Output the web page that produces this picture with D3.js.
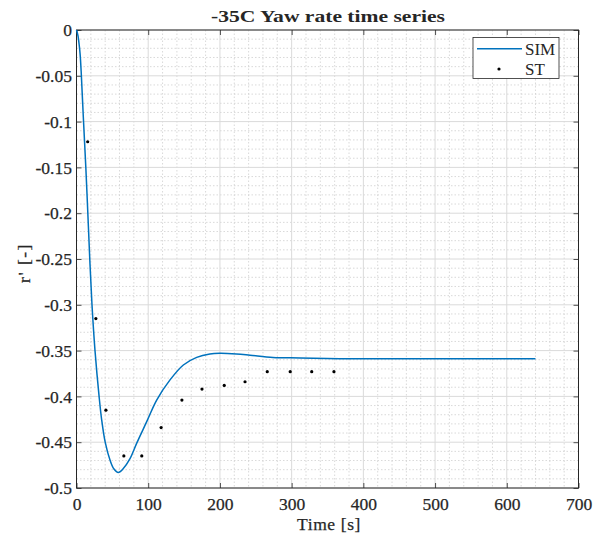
<!DOCTYPE html>
<html>
<head>
<meta charset="utf-8">
<script src="https://cdn.jsdelivr.net/npm/d3@7"></script>
<style>
  html, body { margin: 0; padding: 0; background: #fff; }
  svg { display: block; }
  text { font-family: "Liberation Serif", "Times New Roman", serif; fill: #262626; }
</style>
</head>
<body>
<svg id="chart" width="603" height="536"></svg>
<script>
// ---- data ----
const simTime  = [0, 2, 4, 5, 6.5, 9.5, 13, 15.8, 18.5, 21.6, 25.8, 31.5, 35, 40, 46.7, 52, 58.3, 65, 74.6, 84, 97.9, 111.8, 130.4, 149, 167.6, 186, 200, 223, 242, 274, 312, 367, 451, 550, 640];
const simValue = [0, -0.006, -0.018, -0.026, -0.045, -0.095, -0.15, -0.2, -0.25, -0.3, -0.35, -0.4, -0.425, -0.45, -0.4695, -0.479, -0.483, -0.479, -0.468, -0.451, -0.4276, -0.404, -0.382, -0.3657, -0.3574, -0.3537, -0.353, -0.3537, -0.355, -0.3574, -0.358, -0.3588, -0.359, -0.359, -0.359];
const stTime  = [15.6, 27, 41, 66, 91, 118, 147, 175, 206, 235, 266, 298, 328, 359];
const stValue = [-0.122, -0.315, -0.415, -0.465, -0.465, -0.434, -0.404, -0.392, -0.388, -0.384, -0.373, -0.373, -0.373, -0.373];
const xTicks = [0, 100, 200, 300, 400, 500, 600, 700];
const yTicks = [0, -0.05, -0.1, -0.15, -0.2, -0.25, -0.3, -0.35, -0.4, -0.45, -0.5];
const yTickLabels = ["0", "-0.05", "-0.1", "-0.15", "-0.2", "-0.25", "-0.3", "-0.35", "-0.4", "-0.45", "-0.5"];
const legendLabels = ["SIM", "ST"];
const titleText = "-35C Yaw rate time series";
const xLabelText = "Time [s]";
const yLabelText = "r' [-]";

// ---- layout ----
const L = 76.5, R = 578.5, T = 30, B = 488;
const svg = d3.select("#chart");
const x = d3.scaleLinear().domain([0, 700]).range([L, R]);
const y = d3.scaleLinear().domain([-0.5, 0]).range([B, T]);

// minor grid
const xMinor = d3.range(0, 701, 20).filter(v => v % 100 !== 0);
const yMinor = d3.range(0, 51, 1).map(v => -v / 100).filter((v, i) => i % 5 !== 0);
const g = svg.append("g");
g.selectAll("line.xm").data(xMinor).enter().append("line")
  .attr("x1", d => x(d)).attr("x2", d => x(d)).attr("y1", T).attr("y2", B)
  .attr("stroke", "#cfcfcf").attr("stroke-width", 0.8).attr("stroke-dasharray", "1.5,2");
g.selectAll("line.ym").data(yMinor).enter().append("line")
  .attr("y1", d => y(d)).attr("y2", d => y(d)).attr("x1", L).attr("x2", R)
  .attr("stroke", "#cfcfcf").attr("stroke-width", 0.8).attr("stroke-dasharray", "1.5,2");
// major grid
g.selectAll("line.xM").data(xTicks).enter().append("line")
  .attr("x1", d => x(d)).attr("x2", d => x(d)).attr("y1", T).attr("y2", B)
  .attr("stroke", "#dadada").attr("stroke-width", 1);
g.selectAll("line.yM").data(yTicks).enter().append("line")
  .attr("y1", d => y(d)).attr("y2", d => y(d)).attr("x1", L).attr("x2", R)
  .attr("stroke", "#dadada").attr("stroke-width", 1);

// axes with inward ticks
const fmtY = d => yTickLabels[yTicks.indexOf(d)];
const xAxis = d3.axisBottom(x).tickValues(xTicks).tickSize(-5).tickPadding(10).tickFormat(d3.format("d"));
const yAxis = d3.axisLeft(y).tickValues(yTicks).tickSize(-5).tickPadding(4.5).tickFormat(fmtY);
const xAxisTop = d3.axisTop(x).tickValues(xTicks).tickSize(-5).tickFormat("");
const yAxisRight = d3.axisRight(y).tickValues(yTicks).tickSize(-5).tickFormat("");

function styleAxis(sel) {
  sel.attr("font-family", null).attr("font-size", null);
  sel.select(".domain").remove();
  sel.selectAll(".tick line").attr("stroke", "#262626").attr("stroke-width", 0.8);
  sel.selectAll(".tick text").attr("fill", "#262626")
    .attr("stroke", "#262626").attr("stroke-width", 0.25)
    .style("font-family", "'Liberation Serif', serif").style("font-size", "17.5px");
}
svg.append("g").attr("transform", `translate(0,${B})`).call(xAxis).call(styleAxis);
svg.append("g").attr("transform", `translate(${L},0)`).call(yAxis).call(styleAxis);
svg.append("g").attr("transform", `translate(0,${T})`).call(xAxisTop).call(styleAxis);
svg.append("g").attr("transform", `translate(${R},0)`).call(yAxisRight).call(styleAxis);

// box
svg.append("rect").attr("x", L).attr("y", T).attr("width", R - L).attr("height", B - T)
  .attr("fill", "none").attr("stroke", "#262626").attr("stroke-width", 1);

// SIM line
const simData = simTime.map((t, i) => [t, simValue[i]]);
const line = d3.line().x(d => x(d[0])).y(d => y(d[1])).curve(d3.curveCatmullRom.alpha(0.5));
svg.append("path").datum(simData).attr("d", line)
  .attr("fill", "none").attr("stroke", "#0072BD").attr("stroke-width", 1.5);

// ST points
const stData = stTime.map((t, i) => [t, stValue[i]]);
svg.selectAll("circle.st").data(stData).enter().append("circle")
  .attr("cx", d => x(d[0])).attr("cy", d => y(d[1])).attr("r", 1.6).attr("fill", "#000");

// title
svg.append("text").attr("x", 328).attr("y", 22).attr("text-anchor", "middle")
  .attr("textLength", 234).attr("lengthAdjust", "spacingAndGlyphs")
  .style("font-size", "16.5px").style("font-weight", "bold").attr("fill", "#000")
  .text(titleText);

// axis labels
svg.append("text").attr("x", 329).attr("y", 530).attr("text-anchor", "middle")
  .attr("stroke", "#262626").attr("stroke-width", 0.25)
  .style("font-size", "17.5px").style("letter-spacing", "0.6px").text(xLabelText);
svg.append("text").attr("transform", "translate(30,263) rotate(-90)").attr("text-anchor", "middle")
  .attr("stroke", "#262626").attr("stroke-width", 0.25)
  .style("font-size", "17.5px").style("letter-spacing", "1.5px").text(yLabelText);

// legend
const lg = svg.append("g");
lg.append("rect").attr("x", 473).attr("y", 37.5).attr("width", 86).attr("height", 41)
  .attr("fill", "#fff").attr("stroke", "#262626").attr("stroke-width", 0.8);
lg.append("line").attr("x1", 477).attr("x2", 522).attr("y1", 48.7).attr("y2", 48.7)
  .attr("stroke", "#0072BD").attr("stroke-width", 1.5);
lg.append("circle").attr("cx", 499).attr("cy", 69).attr("r", 1.6).attr("fill", "#000");
lg.append("text").attr("x", 525).attr("y", 54.5).style("font-size", "17px").attr("fill", "#000").text(legendLabels[0]);
lg.append("text").attr("x", 525).attr("y", 74.8).style("font-size", "17px").attr("fill", "#000").text(legendLabels[1]);
</script>
</body>
</html>
